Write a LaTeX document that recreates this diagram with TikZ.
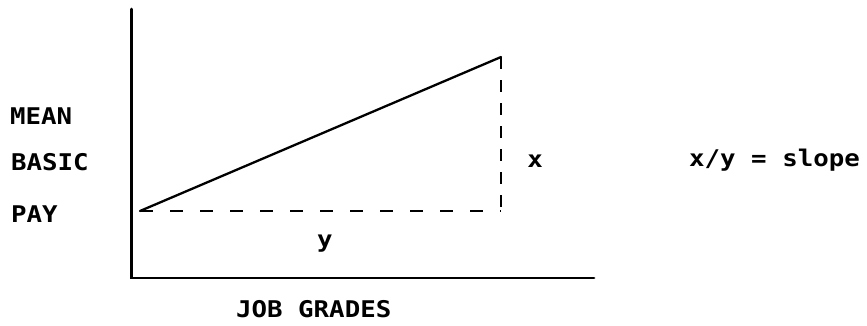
\documentclass[tikz,border=0pt]{standalone}
\usepackage{fontspec}
\newfontfamily\lblfont[FakeStretch=1.12]{DejaVu Sans Mono Bold}
\tikzset{
  lbl/.style={inner sep=0pt, font=\lblfont\fontsize{23}{25}\selectfont, anchor=base west},
  axis/.style={line width=2.8pt, line cap=round},
  slopeline/.style={line width=2.3pt, line cap=round},
  hdash/.style={line width=2.5pt, dash pattern=on 13pt off 17pt},
  vdash/.style={line width=2.5pt, dash pattern=on 12pt off 11pt}
}
\begin{document}
\begin{tikzpicture}[x=1pt,y=-1pt]
\useasboundingbox (0,0) rectangle (867,325);
% axes
\coordinate (ytop) at (131.5,9);
\coordinate (orig) at (131.5,278);
\coordinate (xend) at (594,278);
\draw[axis] (ytop) -- (orig) -- (xend);
% triangle
\coordinate (A) at (140,211);
\coordinate (B) at (501,57);
\coordinate (C) at (501,211);
\draw[slopeline] (A) -- (B);
\draw[hdash] (A) -- (C);
\draw[vdash] (B) -- (C);
% labels
\node[lbl] (mean) at (10,124) {MEAN};
\node[lbl] (basic) at (11,170) {BASIC};
\node[lbl] (pay) at (11,222) {PAY};
\node[lbl] (grades) at (236,317) {JOB GRADES};
\node[lbl, anchor=base] (xl) at (535,167) {x};
\node[lbl, anchor=center] (yl) at (325,244) {y};
\node[lbl] (slope) at (689,166) {x/y = slope};
\end{tikzpicture}
\end{document}
